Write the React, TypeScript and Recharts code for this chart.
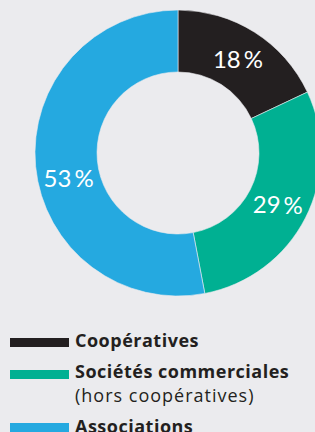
import { PieChart, Pie, Cell, Legend } from 'recharts'

const categories = ['Coopératives', 'Sociétés commerciales', 'Associations']
const subLabels = ['', '(hors coopératives)', '']
const shares = [18, 29, 53]
const colors = ['#231f20', '#00b092', '#25a9e0']

const data = categories.map((name, i) => ({ name, value: shares[i], sub: subLabels[i] }))

const RADIAN = Math.PI / 180
// small angular nudge (degrees) so labels sit where the original put them
const labelAngleShift = [0, 0, 7]

function renderLabel(props: any) {
  const { cx, cy, midAngle, innerRadius, outerRadius, value, index } = props
  const r = (innerRadius + outerRadius) / 2
  const a = (midAngle + labelAngleShift[index]) * RADIAN
  const x = cx + r * Math.cos(-a)
  const y = cy + r * Math.sin(-a)
  return (
    <text
      x={x}
      y={y}
      fill="#ffffff"
      textAnchor="middle"
      dominantBaseline="central"
      fontSize={24}
      fontWeight={400}
      fontFamily="Lato, 'Open Sans', sans-serif"
    >
      {value}
      <tspan dx={3}>%</tspan>
    </text>
  )
}

// legend rows: top of each text line and swatch, in px from top of the chart
const rowTops = [328, 359, 414]
const swatchTops = [338, 370, 423]

function renderLegend() {
  return (
    <div style={{ position: 'relative', fontFamily: "'Open Sans', sans-serif", color: '#231f20' }}>
      {data.map((d, i) => (
        <div key={d.name}>
          <div style={{ position: 'absolute', left: 10, top: swatchTops[i] - 327, width: 59, height: 9, background: colors[i] }} />
          <div
            style={{
              position: 'absolute', left: 75, top: rowTops[i] - 327, lineHeight: '24px',
              fontWeight: 700, fontSize: 18, letterSpacing: 0.5, whiteSpace: 'nowrap',
            }}
          >
            {d.name}
          </div>
          {d.sub && (
            <div
              style={{
                position: 'absolute', left: 75, top: rowTops[i] - 327 + 24, lineHeight: '24px',
                fontWeight: 400, fontSize: 18, letterSpacing: 1, whiteSpace: 'nowrap',
              }}
            >
              {d.sub}
            </div>
          )}
        </div>
      ))}
    </div>
  )
}

export default function App() {
  return (
    <div style={{ position: 'fixed', left: 0, top: 0, width: 315, height: 432, background: '#ebebee', overflow: 'hidden' }}>
      <PieChart width={315} height={432} margin={{ top: 0, right: 0, bottom: 0, left: 0 }}>
        <Pie
          data={data}
          dataKey="value"
          cx={178}
          cy={153}
          innerRadius={81}
          outerRadius={143}
          startAngle={90}
          endAngle={-270}
          stroke="#ebebee"
          strokeWidth={0.6}
          label={renderLabel}
          labelLine={false}
          isAnimationActive={false}
        >
          {data.map((d, i) => (
            <Cell key={d.name} fill={colors[i]} />
          ))}
        </Pie>
        <Legend
          content={renderLegend}
          wrapperStyle={{ position: 'absolute', left: 0, top: 327, width: 315, height: 105 }}
        />
      </PieChart>
    </div>
  )
}
